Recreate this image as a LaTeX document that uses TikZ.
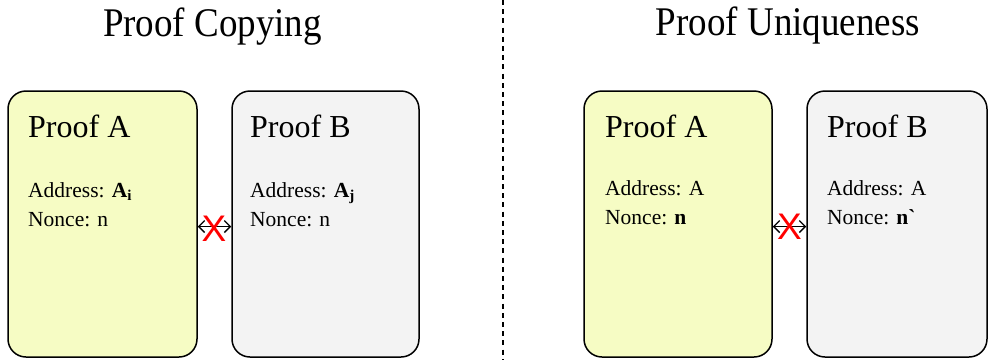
\documentclass[tikz,border=0pt]{standalone}
\usepackage{fontspec}
\setmainfont{Liberation Serif}
\newfontfamily\plainserif[Ligatures=TeXOff]{Liberation Serif}
\newfontfamily\crossfont{Liberation Sans}
\usetikzlibrary{arrows.meta}
\definecolor{proofyellow}{HTML}{F6FCC4}
\definecolor{proofgray}{HTML}{F3F3F3}
\begin{document}
\begin{tikzpicture}[x=1pt,y=-1pt,
  proofbox/.style={draw=black, line width=1.5pt, rounded corners=18pt,
    inner sep=0pt, minimum height=266pt},
  headline/.style={anchor=base, inner sep=0pt, font=\fontsize{37}{40}\selectfont},
  boxtitle/.style={anchor=base west, inner sep=0pt, font=\fontsize{32}{36}\selectfont},
  field/.style={anchor=base west, inner sep=0pt, font=\fontsize{21.5}{24}\selectfont},
  link/.style={line width=1.4pt, {Straight Barb[length=6pt,width=12pt]}-{Straight Barb[length=6pt,width=12pt]}},
  cross/.style={inner sep=0pt, text=red, font=\crossfont\fontsize{37}{37}\selectfont}]
  \useasboundingbox (0,0) rectangle (989,360);

  % section headings and the dotted divider
  \node[headline] (tcopy) at (212.5,36) {\scalebox{1}[1.1]{Proof Copying}};
  \node[headline] (tuniq) at (788,35) {\scalebox{1}[1.1]{Proof Uniqueness}};
  \coordinate (dtop) at (503,0);
  \coordinate (dbot) at (503,360);
  \draw[line width=1.8pt, dash pattern=on 5pt off 4.2pt] (dtop) -- (dbot);

  % left half: proof copying
  \node[proofbox, fill=proofyellow, minimum width=189pt] (aL) at (102.5,224) {};
  \node[proofbox, fill=proofgray, minimum width=187pt] (bL) at (325.5,224) {};
  \node[boxtitle] (aLt) at (28,137) {Proof A};
  \node[boxtitle] (bLt) at (250,137) {Proof B};
  \node[field] (aLa) at (28,197) {Address: \textbf{A}\textsubscript{\textbf{i}}};
  \node[field] (aLn) at (28,226) {Nonce: n};
  \node[field] (bLa) at (250,197) {Address: \textbf{A}\textsubscript{\textbf{j}}};
  \node[field] (bLn) at (250,226) {Nonce: n};
  \draw[link] ([yshift=-2.5pt]aL.east) -- ([yshift=-2.5pt]bL.west);
  \node[cross] (xL) at (214,228.5) {X};

  % right half: proof uniqueness
  \node[proofbox, fill=proofyellow, minimum width=188pt] (aR) at (678,224) {};
  \node[proofbox, fill=proofgray, minimum width=180pt] (bR) at (897,224) {};
  \node[boxtitle] (aRt) at (605,137) {Proof A};
  \node[boxtitle] (bRt) at (827,137) {Proof B};
  \node[field] (aRa) at (605,195) {Address: A};
  \node[field] (aRn) at (605,224) {Nonce: \textbf{n}};
  \node[field] (bRa) at (827,195) {Address: A};
  \node[field] (bRn) at (827,224) {Nonce: \textbf{n{\plainserif\bfseries\char96}}};
  \draw[link] ([yshift=-2.5pt]aR.east) -- ([yshift=-2.5pt]bR.west);
  \node[cross] (xR) at (789.5,226.5) {X};
\end{tikzpicture}
\end{document}
